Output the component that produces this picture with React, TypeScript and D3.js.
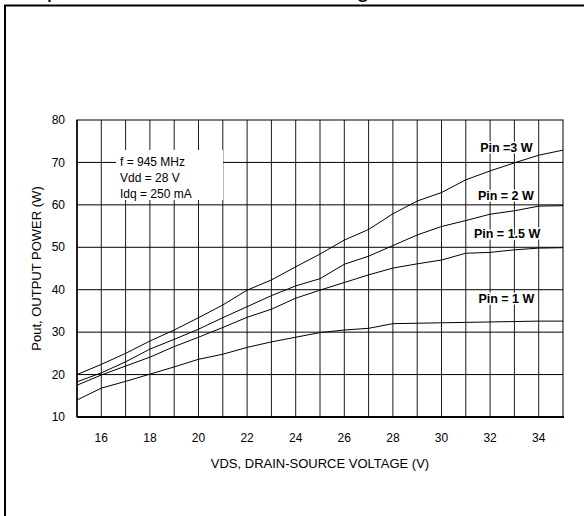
import React from "react";
import * as d3 from "d3";

const vds = [15, 16, 17, 18, 19, 20, 21, 22, 23, 24, 25, 26, 27, 28, 29, 30, 31, 32, 33, 34, 35];
const pin3W = [20, 22.4, 25, 27.9, 30.5, 33.4, 36.4, 39.9, 42.3, 45.4, 48.4, 51.7, 54.2, 57.9, 60.9, 62.9, 65.9, 68.0, 69.9, 71.7, 72.9];
const pin2W = [18.3, 20.4, 23, 26.0, 28.3, 30.7, 33.4, 36.0, 38.6, 40.9, 42.6, 46.0, 47.9, 50.4, 52.9, 54.9, 56.3, 57.8, 58.6, 59.7, 59.8];
const pin15W = [17.5, 19.9, 22, 24.1, 26.6, 28.8, 31.1, 33.5, 35.4, 38.0, 39.9, 41.7, 43.5, 45.1, 46.1, 47.0, 48.6, 48.8, 49.4, 49.8, 49.9];
const pin1W = [14, 16.8, 18.4, 20.1, 21.8, 23.6, 24.8, 26.4, 27.7, 28.8, 29.9, 30.5, 30.9, 32.0, 32.1, 32.2, 32.3, 32.4, 32.5, 32.6, 32.6];

const seriesLabels = ["Pin =3 W", "Pin = 2 W", "Pin = 1.5 W", "Pin = 1 W"];
const labelValues = [72.5, 61.1, 52.1, 36.9];
const labelX = [32.67, 32.65, 32.7, 32.67];

const xTicks = [16, 18, 20, 22, 24, 26, 28, 30, 32, 34];
const yTicks = [10, 20, 30, 40, 50, 60, 70, 80];
const xGrid = d3.range(16, 35, 1);
const conditions = ["f = 945 MHz", "Vdd = 28 V", "Idq = 250 mA"];

const FONT = "'Liberation Sans', Arial, Helvetica, sans-serif";

export default function App() {
  const left = 77, right = 563, top = 120, bottom = 417;
  const x = d3.scaleLinear().domain([15, 35]).range([left, right]);
  const y = d3.scaleLinear().domain([10, 80]).range([bottom, top]);
  const line = d3.line<number>().x((_, i) => x(vds[i])).y((d) => y(d));
  const series = [pin3W, pin2W, pin15W, pin1W];

  return (
    <svg
      width={584}
      height={516}
      style={{ position: "fixed", left: 0, top: 0, background: "#fff" }}
      fontFamily={FONT}
    >
      <rect x={0} y={0} width={584} height={516} fill="#fff" />
      <text x={8} y={-3} fontSize={24} fill="#000">Output Power versus Drain Voltage</text>
      <rect x={5} y={5.5} width={700} height={700} fill="none" stroke="#000" strokeWidth={2} />

      {/* grid */}
      {xGrid.map((v) => (
        <line key={"vx" + v} x1={x(v)} x2={x(v)} y1={top} y2={bottom} stroke="#1a1a1a" strokeWidth={1} />
      ))}
      {yTicks.slice(1, -1).map((v) => (
        <line key={"hy" + v} x1={left} x2={right} y1={y(v)} y2={y(v)} stroke="#000" strokeWidth={1} />
      ))}

      {/* annotation box */}
      <rect x={116} y={150} width={107} height={50} fill="#fff" />
      {conditions.map((c, i) => (
        <text key={c} x={120} y={166 + i * 15.8} fontSize={12} fill="#000">{c}</text>
      ))}

      {/* curves */}
      {series.map((s, i) => (
        <path key={i} d={line(s) || ""} fill="none" stroke="#000" strokeWidth={1} />
      ))}

      {/* curve labels */}
      {seriesLabels.map((l, i) => (
        <text
          key={l}
          x={x(labelX[i])}
          y={y(labelValues[i])}
          fontSize={12.5}
          fontWeight="bold"
          textAnchor="middle"
          fill="#000"
          stroke="#fff"
          strokeWidth={3}
          paintOrder="stroke"
        >{l}</text>
      ))}

      {/* plot border */}
      <rect x={left} y={top} width={right - left} height={bottom - top} fill="none" stroke="#000" strokeWidth={1} />
      <line x1={left} x2={right + 1} y1={bottom} y2={bottom} stroke="#000" strokeWidth={2} />
      <line x1={left} x2={left} y1={top} y2={bottom} stroke="#000" strokeWidth={1.5} />

      {/* ticks */}
      {yTicks.map((v) => (
        <text key={"yt" + v} x={65} y={y(v)} dy="0.35em" fontSize={12} textAnchor="end" fill="#000">{v}</text>
      ))}
      {xTicks.map((v) => (
        <text key={"xt" + v} x={x(v)} y={442} fontSize={12} textAnchor="middle" fill="#000">{v}</text>
      ))}

      <text x={(left + right) / 2} y={468} fontSize={13} textAnchor="middle" fill="#000">
        VDS, DRAIN-SOURCE VOLTAGE (V)
      </text>
      <text
        transform={`translate(41, ${(top + bottom) / 2}) rotate(-90)`}
        fontSize={13}
        textAnchor="middle"
        fill="#000"
      >
        Pout, OUTPUT POWER (W)
      </text>
    </svg>
  );
}
